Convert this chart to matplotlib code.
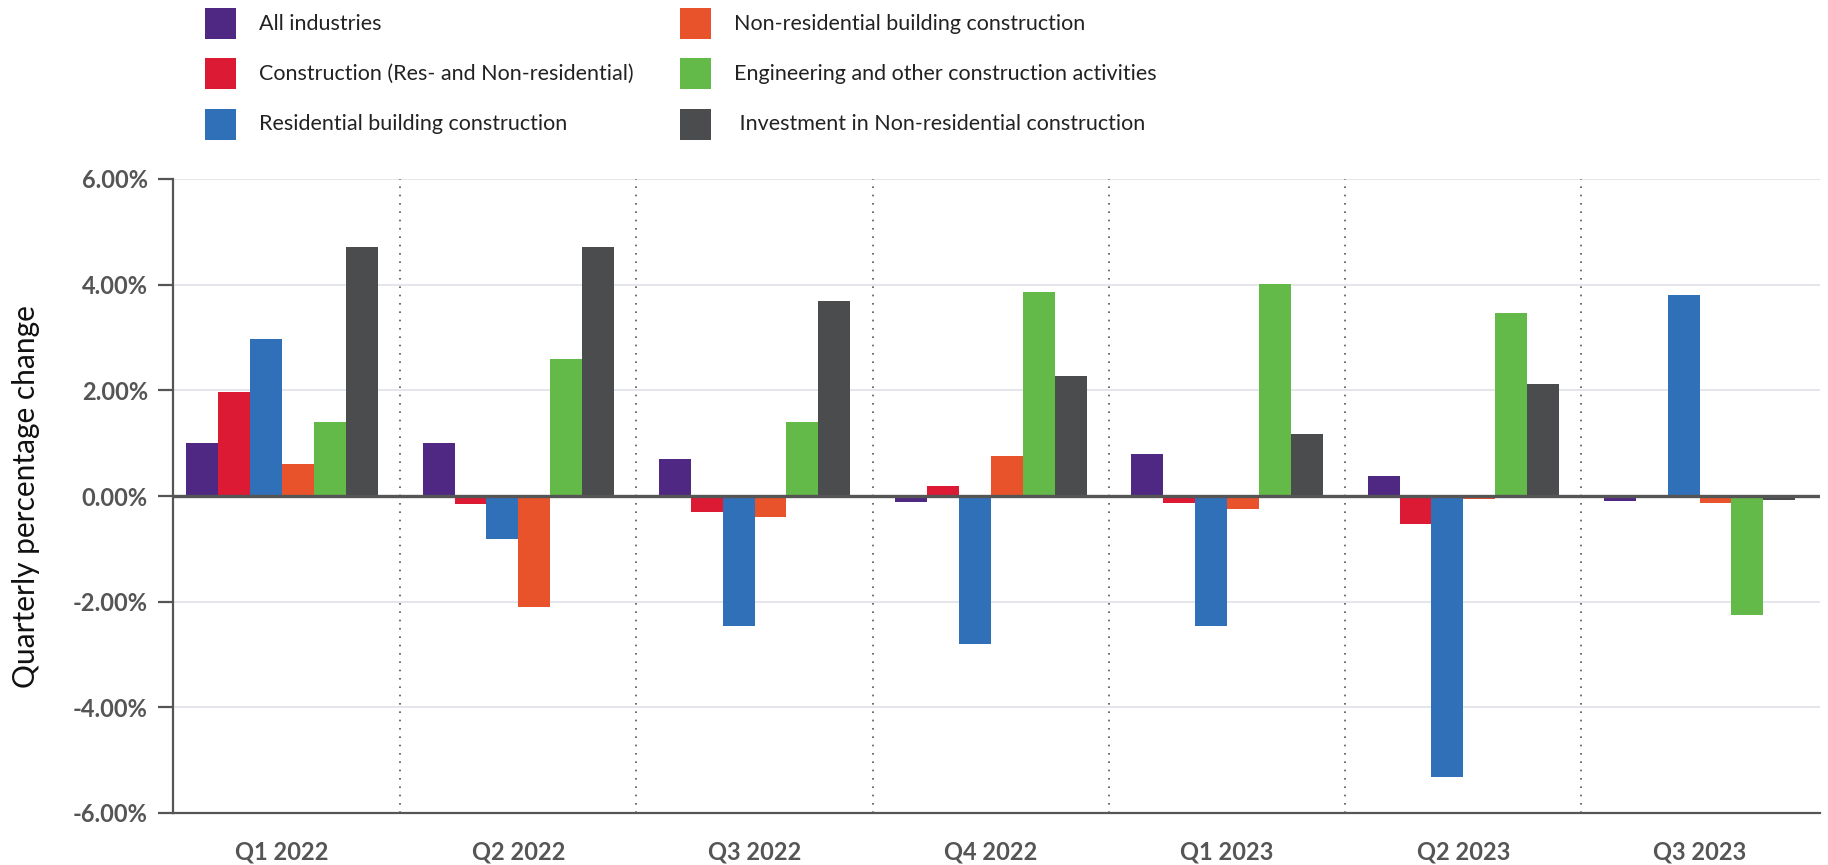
import numpy as np
import matplotlib
matplotlib.use("Agg")
import matplotlib.pyplot as plt
from matplotlib.patches import Rectangle
from matplotlib.ticker import FuncFormatter

plt.rcParams['font.family'] = ['Lato', 'DejaVu Sans']

quarters = ["Q1 2022", "Q2 2022", "Q3 2022", "Q4 2022", "Q1 2023", "Q2 2023", "Q3 2023"]

series_names = [
    "All industries",
    "Construction (Res- and Non-residential)",
    "Residential building construction",
    "Non-residential building construction",
    "Engineering and other construction activities",
    " Investment in Non-residential construction",
]
series_colors = ["#4f2884", "#dc1a34", "#3070b8", "#e9532b", "#63ba48", "#4b4c4e"]

# quarterly % change per series
all_industries = [1.00, 1.01, 0.70, -0.12, 0.80, 0.37, -0.09]
construction = [1.97, -0.16, -0.31, 0.18, -0.14, -0.53, -0.03]
residential = [2.98, -0.82, -2.46, -2.80, -2.46, -5.32, 3.80]
non_residential = [0.61, -2.10, -0.40, 0.76, -0.25, -0.05, -0.13]
engineering = [1.40, 2.59, 1.40, 3.87, 4.02, 3.46, -2.26]
investment = [4.72, 4.72, 3.69, 2.27, 1.18, 2.12, -0.08]

series_values = [all_industries, construction, residential,
                 non_residential, engineering, investment]

W, H = 1828, 865
fig = plt.figure(figsize=(W / 100, H / 100), dpi=100)
ax = fig.add_axes([173 / W, 1 - 813 / H, (1820 - 173) / W, (813 - 179) / H])

x = np.arange(len(quarters))
bar_w = 0.135
for i, (vals, col) in enumerate(zip(series_values, series_colors)):
    ax.bar(x + (i - 2.5) * bar_w, vals, width=bar_w, color=col, zorder=3, linewidth=0)

ax.set_xlim(-0.462, 6.51)
ax.set_ylim(-6, 6)

# horizontal grid
yticks = np.arange(-6, 7, 2)
for yv in yticks:
    ax.axhline(yv, color="#e3e3ea", lw=1.3, zorder=1)
ax.axhline(0, color="#555555", lw=2.4, zorder=4)

# dotted quarter separators
for b in np.arange(0.5, len(quarters) - 1, 1.0):
    ax.axvline(b, color="#555555", lw=1.2, linestyle=(0, (1, 4)), zorder=2)

ax.set_yticks(yticks)
ax.yaxis.set_major_formatter(FuncFormatter(lambda v, p: f"{v:.2f}%"))
ax.set_xticks(x)
ax.set_xticklabels(quarters)

for side in ["top", "right"]:
    ax.spines[side].set_visible(False)
for side in ["left", "bottom"]:
    ax.spines[side].set_color("#555555")
    ax.spines[side].set_linewidth(1.6)

ax.tick_params(axis="y", length=11, width=1.6, color="#555555", pad=7,
               labelsize=17, labelcolor="#555555")
ax.tick_params(axis="x", length=0, pad=20, labelsize=17, labelcolor="#555555")
for lab in ax.get_xticklabels() + ax.get_yticklabels():
    lab.set_fontweight("bold")

fig.text(26 / W, 1 - 497 / H, "Quarterly percentage change", rotation=90,
         ha="center", va="center", fontsize=21.5, color="#111111")

# legend: two columns of three rows
col_x = [205, 680]
row_y = [8, 58, 109]
sq = 31
for i, (name, col) in enumerate(zip(series_names, series_colors)):
    cx = col_x[i // 3]
    ry = row_y[i % 3]
    fig.add_artist(Rectangle((cx / W, 1 - (ry + sq) / H), sq / W, sq / H,
                             transform=fig.transFigure, color=col, lw=0))
    fig.text((cx + 54) / W, 1 - (ry + sq / 2) / H, name, ha="left", va="center",
             fontsize=15.5, color="#222222")

fig.savefig("out.png", dpi=100)
